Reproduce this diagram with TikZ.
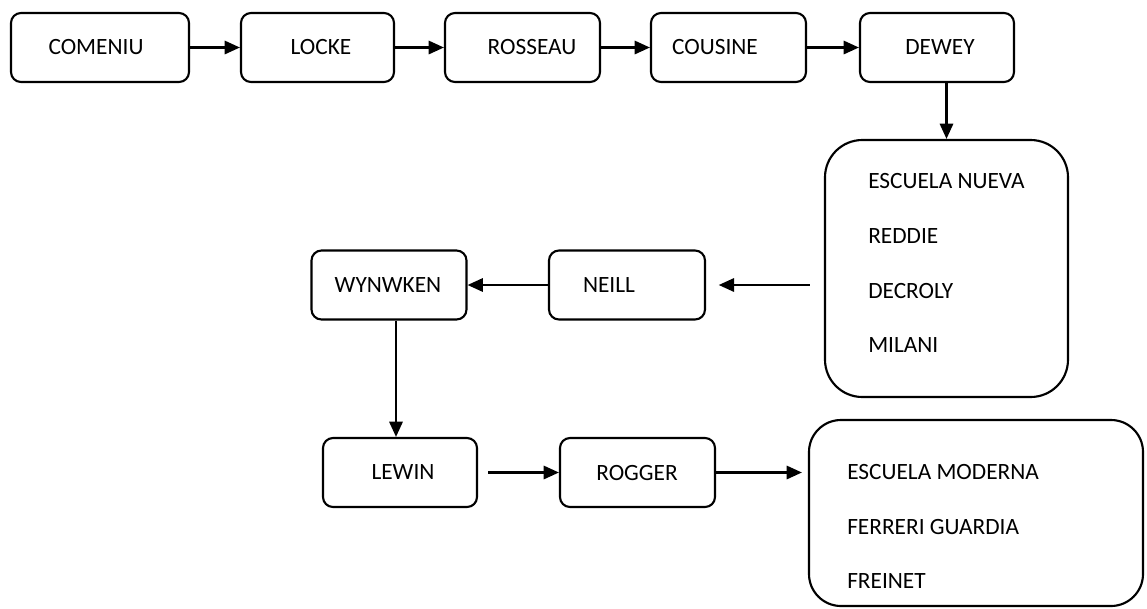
\documentclass[tikz,border=0pt]{standalone}
\usepackage{fontspec}
\setmainfont{Carlito}
\usetikzlibrary{arrows.meta}
\tikzset{
  box/.style={draw=black, line width=1.6pt, rounded corners=7.5pt, minimum width=#1*0.75pt, minimum height=69*0.75pt, inner sep=0pt},
  bigbox/.style={draw=black, line width=1.6pt, inner sep=0pt},
  txt/.style={inner sep=0pt, font=\fontsize{17.5}{20}\selectfont},
  arr/.style={line width=1.7pt, -{Triangle[length=11.5pt,width=10pt]}}
}
\begin{document}
\begin{tikzpicture}[x=0.75pt,y=-0.75pt]
\useasboundingbox (0,0) rectangle (1147,608);
% top row
\node[box=178] (comeniu) at (100,47.5) {};
\node[txt] (comeniuT) at (96,47.5) {COMENIU};
\node[box=153] (locke) at (317.5,47.5) {};
\node[txt] (lockeT) at (321,47.5) {LOCKE};
\node[box=155] (rosseau) at (522.5,47.5) {};
\node[txt] (rosseauT) at (532,47.5) {ROSSEAU};
\node[box=155] (cousine) at (728.5,47.5) {};
\node[txt] (cousineT) at (715,47.5) {COUSINE};
\node[box=154] (dewey) at (937,47.5) {};
\node[txt] (deweyT) at (940,47.5) {DEWEY};
% escuela nueva
\node[bigbox, rounded corners=28pt, minimum width=243*0.75pt, minimum height=257*0.75pt] (en) at (946.5,268.5) {};
\node[txt, anchor=west] (en1) at (868,181) {ESCUELA NUEVA};
\node[txt, anchor=west] (en2) at (868,236) {REDDIE};
\node[txt, anchor=west] (en3) at (868,291) {DECROLY};
\node[txt, anchor=west] (en4) at (868,345) {MILANI};
% middle row
\node[box=155] (wyn) at (389,285) {};
\node[txt] (wynT) at (388,285) {WYNWKEN};
\node[box=156] (neill) at (627,285) {};
\node[txt] (neillT) at (609,285) {NEILL};
% bottom row
\node[box=154] (lewin) at (400,472.5) {};
\node[txt] (lewinT) at (403,472.5) {LEWIN};
\node[box=155] (rogger) at (637.5,472.5) {};
\node[txt] (roggerT) at (637,472.5) {ROGGER};
\node[bigbox, rounded corners=24pt, minimum width=334*0.75pt, minimum height=186*0.75pt] (em) at (976,513) {};
\node[txt, anchor=west] (em1) at (847,472) {ESCUELA MODERNA};
\node[txt, anchor=west] (em2) at (847,527) {FERRERI GUARDIA};
\node[txt, anchor=west] (em3) at (847,581) {FREINET};
% connectors
\draw[arr] (comeniu) -- (locke);
\draw[arr] (locke) -- (rosseau);
\draw[arr] (rosseau) -- (cousine);
\draw[arr] (cousine) -- (dewey);
\draw[arr] (dewey.south -| en.north) -- (en.north);
\draw[arr, shorten <=10.5pt, shorten >=9.5pt] (en.west |- neill.east) -- (neill.east);
\draw[arr] (neill) -- (wyn);
\draw[arr] ([xshift=5.25pt]wyn.south) -- ([xshift=-3pt]lewin.north);
\draw[arr, shorten <=7.5pt] (lewin) -- (rogger);
\draw[arr, shorten >=4.5pt] (rogger.east) -- (rogger.east -| em.west);
\end{tikzpicture}
\end{document}
